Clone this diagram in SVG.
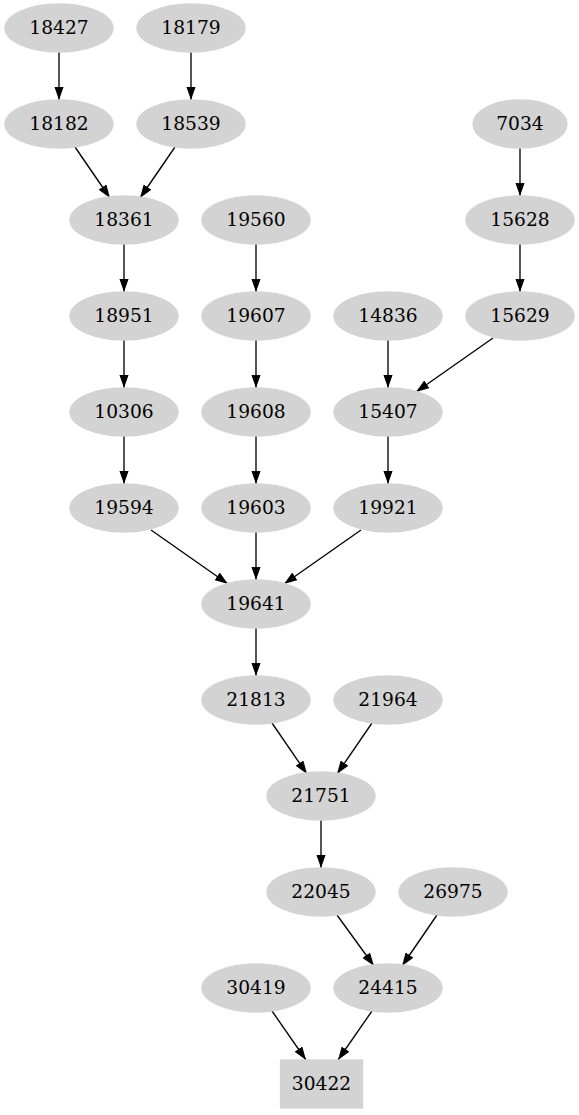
<svg xmlns="http://www.w3.org/2000/svg" width="579" height="1115" viewBox="0 0 579 1115">
<style>
.n ellipse, .n rect { fill: #d3d3d3; stroke: #d3d3d3; stroke-width: 1.33; }
.n text { font-family: "DejaVu Serif", "Liberation Serif", serif; font-size: 18.67px; text-anchor: middle; fill: #000; }
.e path { fill: none; stroke: #000; stroke-width: 1.33; marker-end: url(#arr); }
</style>
<defs>
<marker id="arr" viewBox="0 0 10 7" markerWidth="13.3" markerHeight="9.3" refX="10" refY="3.5" orient="auto" markerUnits="userSpaceOnUse">
<path d="M0,0 L10,3.5 L0,7 z" fill="#000" stroke="none"/>
</marker>
</defs>
<rect width="579" height="1115" fill="#fff"/>
<g id="connectors" class="e">
<path d="M59,52 L59,100"/>
<path d="M191,52 L191,100"/>
<path d="M75,147 L110,198"/>
<path d="M175,147 L140,198"/>
<path d="M124,244 L124,292"/>
<path d="M256,244 L256,292"/>
<path d="M520,148 L520,196"/>
<path d="M520,244 L520,292"/>
<path d="M124,340 L124,388"/>
<path d="M256,340 L256,388"/>
<path d="M388,340 L388,388"/>
<path d="M493,338 L416,392"/>
<path d="M124,436 L124,484"/>
<path d="M256,436 L256,484"/>
<path d="M388,436 L388,484"/>
<path d="M151,530 L228,584"/>
<path d="M256,532 L256,580"/>
<path d="M361,530 L284,584"/>
<path d="M256,628 L256,676"/>
<path d="M272,723 L307,774"/>
<path d="M372,723 L337,774"/>
<path d="M321,820 L321,868"/>
<path d="M337,915 L374,966"/>
<path d="M437,915 L402,966"/>
<path d="M272,1011 L306,1060"/>
<path d="M372,1011 L338,1060"/>
</g>
<g id="n18427" class="n"><ellipse cx="59" cy="28" rx="54" ry="24"/><text x="59" y="34">18427</text></g>
<g id="n18179" class="n"><ellipse cx="191" cy="28" rx="54" ry="24"/><text x="191" y="34">18179</text></g>
<g id="n18182" class="n"><ellipse cx="59" cy="124" rx="54" ry="24"/><text x="59" y="130">18182</text></g>
<g id="n18539" class="n"><ellipse cx="191" cy="124" rx="54" ry="24"/><text x="191" y="130">18539</text></g>
<g id="n7034" class="n"><ellipse cx="520" cy="124" rx="47" ry="24"/><text x="520" y="130">7034</text></g>
<g id="n18361" class="n"><ellipse cx="124" cy="220" rx="54" ry="24"/><text x="124" y="226">18361</text></g>
<g id="n19560" class="n"><ellipse cx="256" cy="220" rx="54" ry="24"/><text x="256" y="226">19560</text></g>
<g id="n15628" class="n"><ellipse cx="520" cy="220" rx="54" ry="24"/><text x="520" y="226">15628</text></g>
<g id="n18951" class="n"><ellipse cx="124" cy="316" rx="54" ry="24"/><text x="124" y="322">18951</text></g>
<g id="n19607" class="n"><ellipse cx="256" cy="316" rx="54" ry="24"/><text x="256" y="322">19607</text></g>
<g id="n14836" class="n"><ellipse cx="388" cy="316" rx="54" ry="24"/><text x="388" y="322">14836</text></g>
<g id="n15629" class="n"><ellipse cx="520" cy="316" rx="54" ry="24"/><text x="520" y="322">15629</text></g>
<g id="n10306" class="n"><ellipse cx="124" cy="412" rx="54" ry="24"/><text x="124" y="418">10306</text></g>
<g id="n19608" class="n"><ellipse cx="256" cy="412" rx="54" ry="24"/><text x="256" y="418">19608</text></g>
<g id="n15407" class="n"><ellipse cx="388" cy="412" rx="54" ry="24"/><text x="388" y="418">15407</text></g>
<g id="n19594" class="n"><ellipse cx="124" cy="508" rx="54" ry="24"/><text x="124" y="514">19594</text></g>
<g id="n19603" class="n"><ellipse cx="256" cy="508" rx="54" ry="24"/><text x="256" y="514">19603</text></g>
<g id="n19921" class="n"><ellipse cx="388" cy="508" rx="54" ry="24"/><text x="388" y="514">19921</text></g>
<g id="n19641" class="n"><ellipse cx="256" cy="604" rx="54" ry="24"/><text x="256" y="610">19641</text></g>
<g id="n21813" class="n"><ellipse cx="256" cy="700" rx="54" ry="24"/><text x="256" y="706">21813</text></g>
<g id="n21964" class="n"><ellipse cx="388" cy="700" rx="54" ry="24"/><text x="388" y="706">21964</text></g>
<g id="n21751" class="n"><ellipse cx="321" cy="796" rx="54" ry="24"/><text x="321" y="802">21751</text></g>
<g id="n22045" class="n"><ellipse cx="321" cy="892" rx="54" ry="24"/><text x="321" y="898">22045</text></g>
<g id="n26975" class="n"><ellipse cx="453" cy="892" rx="54" ry="24"/><text x="453" y="898">26975</text></g>
<g id="n30419" class="n"><ellipse cx="256" cy="988" rx="54" ry="24"/><text x="256" y="994">30419</text></g>
<g id="n24415" class="n"><ellipse cx="388" cy="988" rx="54" ry="24"/><text x="388" y="994">24415</text></g>
<g id="n30422" class="n"><rect x="280.5" y="1060" width="82" height="48"/><text x="321.5" y="1090">30422</text></g>
</svg>
